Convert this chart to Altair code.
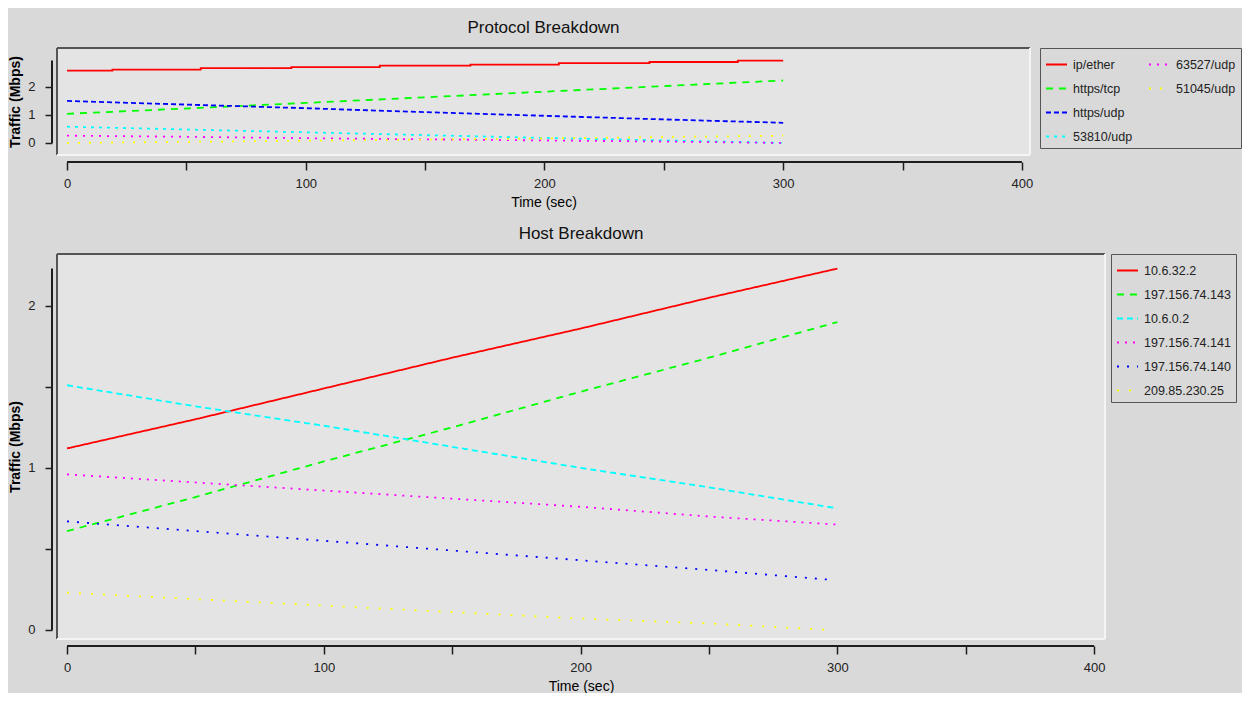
import altair as alt
import pandas as pd

FONT = "Liberation Sans"

# ---------------- Protocol Breakdown ----------------
IP_ETHER_T = [0, 19, 19, 56, 56, 94, 94, 131, 131, 169, 169, 206, 206, 244, 244, 281, 281, 300]
IP_ETHER_V = [2.58, 2.58, 2.62, 2.62, 2.67, 2.67, 2.71, 2.71, 2.76, 2.76, 2.80, 2.80,
              2.85, 2.85, 2.89, 2.89, 2.94, 2.94]
PROTO_T = [0, 50, 100, 150, 200, 250, 300]
HTTPS_TCP_V = [1.04, 1.23, 1.43, 1.63, 1.83, 2.03, 2.23]
HTTPS_UDP_V = [1.50, 1.37, 1.24, 1.10, 0.97, 0.84, 0.72]
P53810_V = [0.58, 0.48, 0.38, 0.28, 0.18, 0.09, 0.00]
P63527_V = [0.26, 0.22, 0.17, 0.13, 0.09, 0.05, 0.00]
P51045_V = [0.00, 0.04, 0.08, 0.12, 0.16, 0.21, 0.26]

# legend fills column by column; " " and "  " are empty slots
PROTO_LEGEND = ["ip/ether", "https/tcp", "https/udp", "53810/udp", "63527/udp", "51045/udp", " ", "  "]
PROTO_COLORS = ["#ff0000", "#00ff00", "#0000ff", "#00ffff", "#ff00ff", "#ffff00",
                "rgba(0,0,0,0)", "rgba(0,0,0,0)"]
PROTO_DASHES = [[1, 0], [7, 6], [5, 3], [3, 5], [2, 6], [2, 9], [1, 0], [1, 0]]

# ---------------- Host Breakdown ----------------
HOST_T = [0, 50, 100, 150, 200, 250, 300]
HOST_T_SHORT = [0, 50, 100, 150, 200, 250, 297]
H_10_6_32_2 = [1.12, 1.30, 1.49, 1.68, 1.86, 2.05, 2.23]
H_197_143 = [0.61, 0.82, 1.04, 1.25, 1.47, 1.68, 1.90]
H_10_6_0_2 = [1.51, 1.38, 1.26, 1.13, 1.00, 0.88, 0.75]
H_197_141 = [0.96, 0.91, 0.86, 0.81, 0.76, 0.70, 0.65]
H_197_140 = [0.67, 0.61, 0.55, 0.49, 0.43, 0.37, 0.31]
H_209_25 = [0.23, 0.19, 0.15, 0.11, 0.07, 0.04, 0.00]

HOST_LEGEND = ["10.6.32.2", "197.156.74.143", "10.6.0.2", "197.156.74.141",
               "197.156.74.140", "209.85.230.25"]
HOST_COLORS = ["#ff0000", "#00ff00", "#00ffff", "#ff00ff", "#0000ff", "#ffff00"]
HOST_DASHES = [[1, 0], [7, 6], [6, 4], [2, 6], [2, 8], [2, 10]]

X_TICKS = [0, 50, 100, 150, 200, 250, 300, 350, 400]
X_AXIS_SPAN = [0, 400]


def long_df(items):
    rows = []
    for name, ts, vs in items:
        for i, (t, v) in enumerate(zip(ts, vs)):
            rows.append({"series": name, "t": t, "v": v, "i": i})
    return pd.DataFrame(rows)


proto_df = long_df([
    ("ip/ether", IP_ETHER_T, IP_ETHER_V),
    ("https/tcp", PROTO_T, HTTPS_TCP_V),
    ("https/udp", PROTO_T, HTTPS_UDP_V),
    ("53810/udp", PROTO_T, P53810_V),
    ("63527/udp", PROTO_T, P63527_V),
    ("51045/udp", PROTO_T, P51045_V),
])

host_df = long_df([
    ("10.6.32.2", HOST_T, H_10_6_32_2),
    ("197.156.74.143", HOST_T, H_197_143),
    ("10.6.0.2", HOST_T, H_10_6_0_2),
    ("197.156.74.141", HOST_T, H_197_141),
    ("197.156.74.140", HOST_T_SHORT, H_197_140),
    ("209.85.230.25", HOST_T_SHORT, H_209_25),
])

AXIS_COLOR = "#1e1e1e"
X_OFFSET = 7
Y_OFFSET = 5


def panel(df, title, legend_domain, colors, dashes, columns, w, h, xdom, ydom, yticks, legend_offset):
    legend = alt.Legend(
        title=None, orient="right", offset=legend_offset, columns=columns,
        symbolType="stroke", symbolSize=441, symbolStrokeWidth=2,
        labelFont=FONT, labelFontSize=12.5, labelColor="#222222", labelOffset=5,
        rowPadding=6, columnPadding=12, padding=5, strokeColor="#555555",
        labelLimit=200,
    )
    xscale = alt.Scale(domain=xdom, nice=False, zero=False)
    yscale = alt.Scale(domain=ydom, nice=False, zero=False)
    x = alt.X("t:Q", scale=xscale,
              axis=alt.Axis(title="Time (sec)", values=X_TICKS,
                            labelExpr="datum.value % 100 == 0 ? '' + datum.value : ''",
                            offset=X_OFFSET, tickSize=8, labelFlush=False, grid=False,
                            domain=False))
    y = alt.Y("v:Q", scale=yscale,
              axis=alt.Axis(title="Traffic (Mbps)", values=yticks,
                            labelExpr="datum.value % 1 == 0 ? '' + datum.value : ''",
                            offset=Y_OFFSET, tickSize=7, grid=False, domain=False))
    lines = alt.Chart(df).mark_line(strokeWidth=1.8, clip=True).encode(
        x=x, y=y,
        color=alt.Color("series:N", scale=alt.Scale(domain=legend_domain, range=colors), legend=legend),
        strokeDash=alt.StrokeDash("series:N", scale=alt.Scale(domain=legend_domain, range=dashes), legend=legend),
        order=alt.Order("i:Q"),
    )
    # axis lines spanning only the labelled range, as in the original
    xline = alt.Chart(pd.DataFrame({"a": [X_AXIS_SPAN[0]], "b": [X_AXIS_SPAN[1]]})).mark_rule(
        color=AXIS_COLOR, strokeWidth=2).encode(
        x=alt.X("a:Q", scale=xscale), x2="b:Q", y=alt.value(h + X_OFFSET))
    vmax = float(df["v"].max())
    yline = alt.Chart(pd.DataFrame({"a": [0.0], "b": [vmax]})).mark_rule(
        color=AXIS_COLOR, strokeWidth=2).encode(
        y=alt.Y("a:Q", scale=yscale), y2="b:Q", x=alt.value(-Y_OFFSET))
    one = pd.DataFrame({"k": [0]})
    top_edge = alt.Chart(one).mark_rule(color="#555555", strokeWidth=2).encode(
        x=alt.value(0), x2=alt.value(w), y=alt.value(0))
    left_edge = alt.Chart(one).mark_rule(color="#555555", strokeWidth=2).encode(
        x=alt.value(0), y=alt.value(0), y2=alt.value(h))
    bottom_edge = alt.Chart(one).mark_rule(color="#f4f4f4", strokeWidth=2).encode(
        x=alt.value(0), x2=alt.value(w), y=alt.value(h))
    right_edge = alt.Chart(one).mark_rule(color="#f4f4f4", strokeWidth=2).encode(
        x=alt.value(w), y=alt.value(0), y2=alt.value(h))
    return alt.layer(lines, xline, yline, top_edge, left_edge, bottom_edge, right_edge).properties(
        width=w, height=h,
        title=alt.Title(title, frame="group", offset=10, fontSize=17, font=FONT,
                        fontWeight="normal", color="#111111"),
    )


top = panel(proto_df, "Protocol Breakdown", PROTO_LEGEND, PROTO_COLORS, PROTO_DASHES,
            2, 973, 107, [-4.2, 403.4], [-0.43, 3.39], [0, 0.5, 1, 1.5, 2, 2.5], 10)
bottom = panel(host_df, "Host Breakdown", HOST_LEGEND, HOST_COLORS, HOST_DASHES,
               1, 1048, 385, [-3.9, 404.2], [-0.056, 2.32], [0, 0.5, 1, 1.5, 2], 6)

chart = alt.vconcat(top, bottom, spacing=16).resolve_scale(
    x="independent", y="independent", color="independent", strokeDash="independent"
).properties(
    background="#d9d9d9",
    padding={"left": 0, "top": 11, "right": 0, "bottom": 0},
).configure_view(
    fill="#e4e4e4", stroke=None
).configure_axis(
    labelFont=FONT, labelFontSize=13, labelColor="#222222",
    titleFont=FONT, titleColor="#000000",
    tickColor=AXIS_COLOR, tickWidth=1.5,
).configure_axisX(
    titleFontSize=14, titleFontWeight="normal", titlePadding=5, labelPadding=7,
).configure_axisY(
    titleFontSize=14, titleFontWeight="bold", titlePadding=5, labelPadding=10,
)

chart.save("out.html", embed_options={"renderer": "svg", "actions": False})
